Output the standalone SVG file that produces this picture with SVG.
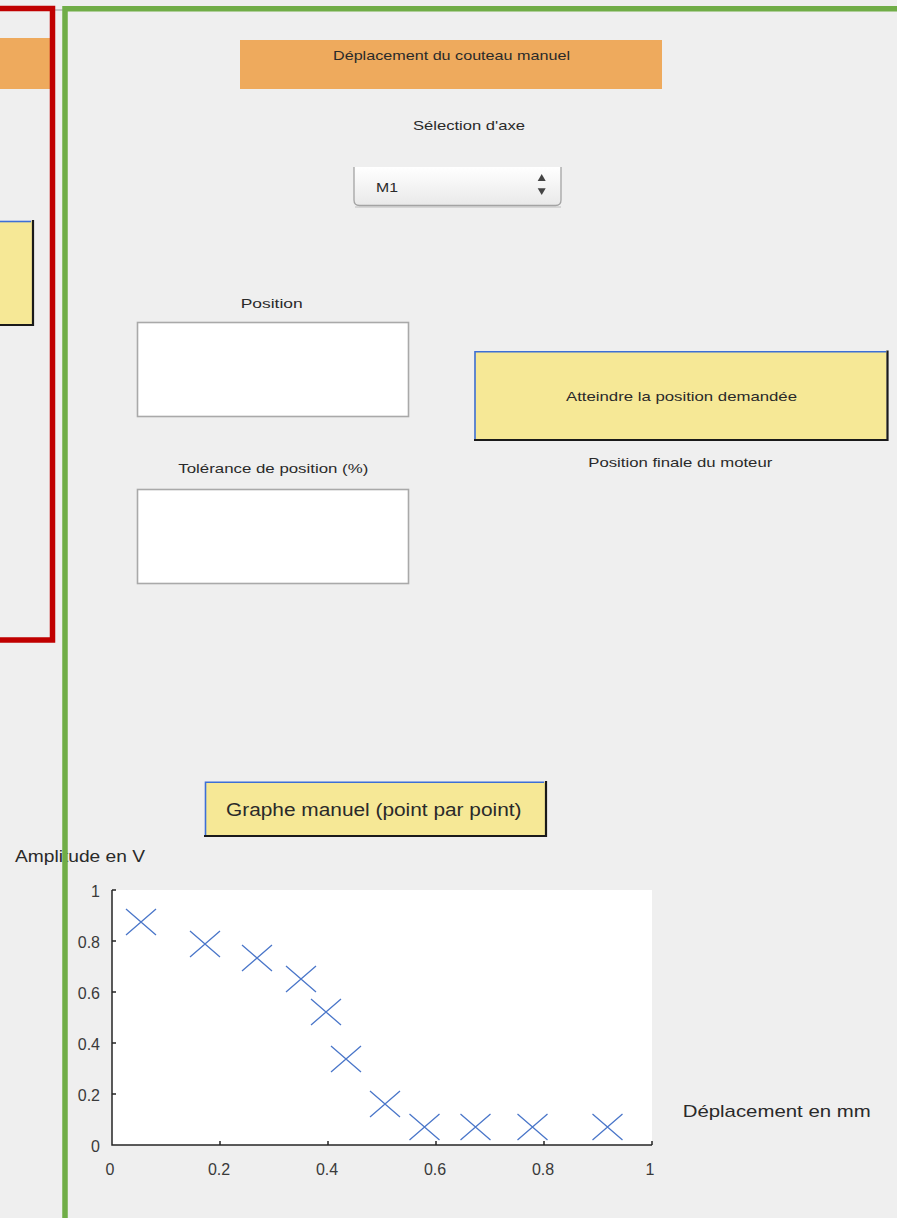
<svg xmlns="http://www.w3.org/2000/svg" width="897" height="1218" viewBox="0 0 897 1218">
<defs>
<style>
.t{font-family:"Liberation Sans",Arial,sans-serif;fill:#2a2a2a}
.s{font-size:13px}
.b{font-size:17px}
.tick{font-family:"Liberation Sans",Arial,sans-serif;font-size:16px;fill:#3a3a3a}
.btn{fill:#f6e896}
.hi{stroke:#3d6fd6;stroke-width:1.6;fill:none}
.sh{stroke:#1a1a1a;stroke-width:2.2;fill:none}
.box{fill:#ffffff;stroke:#a9a9a9;stroke-width:1.6}
.orange{fill:#eeaa5d}
.mk{stroke:#4a76c9;stroke-width:1.3;fill:none}
.ax{stroke:#262626;stroke-width:1.5;fill:none}
</style>
<linearGradient id="dd" x1="0" y1="0" x2="0" y2="1">
<stop offset="0" stop-color="#ffffff"/>
<stop offset="1" stop-color="#e9e9e9"/>
</linearGradient>
<path id="x" d="M-15,-13 L15,13 M-15,13 L15,-13"/>
</defs>
<rect x="0" y="0" width="897" height="1218" fill="#efefef"/>
<line x1="52" y1="10" x2="66" y2="10" stroke="#c4c4c4" stroke-width="2"/>

<g id="left-panel">
<rect class="orange" x="0" y="38" width="50" height="51"/>
<g id="left-button">
<rect class="btn" x="0" y="221" width="32" height="103"/>
<path class="hi" d="M0,221.5 H31"/>
<path class="sh" d="M0,325 H33 V220"/>
</g>
</g>

<g id="title-band">
<rect class="orange" x="240" y="40" width="422" height="49"/>
<text class="t s" x="333" y="59.5" textLength="237" lengthAdjust="spacingAndGlyphs">Déplacement du couteau manuel</text>
</g>

<g id="axis-label">
<text class="t s" x="413" y="130" textLength="112" lengthAdjust="spacingAndGlyphs">Sélection d'axe</text>
</g>

<g id="dropdown">
<path d="M355,207 H561" stroke="#d6d6d6" stroke-width="2"/>
<path d="M354,167 V200 Q354,205.5 359.5,205.5 H555.5 Q561,205.5 561,200 V167" fill="url(#dd)" stroke="#a3a3a3" stroke-width="1.3"/>
<text class="t" x="376" y="192.3" font-size="13.5" textLength="22" lengthAdjust="spacingAndGlyphs">M1</text>
<polygon points="541.7,174 537.7,181 545.7,181" fill="#444"/>
<polygon points="541.7,195 537.7,188.3 545.7,188.3" fill="#444"/>
</g>

<g id="position">
<text class="t s" x="240.7" y="308.3" textLength="62" lengthAdjust="spacingAndGlyphs">Position</text>
<rect class="box" x="137.5" y="322.5" width="271" height="94"/>
</g>

<g id="tolerance">
<text class="t s" x="178.3" y="473.3" textLength="190" lengthAdjust="spacingAndGlyphs">Tolérance de position (%)</text>
<rect class="box" x="137.5" y="489.5" width="271" height="94"/>
</g>

<g id="goto-button">
<rect class="btn" x="474.5" y="351.5" width="412" height="88"/>
<path class="hi" d="M475,439 V351.8 H886"/>
<path class="sh" d="M474,440 H887.5 V350.5"/>
<text class="t s" x="566" y="400.7" textLength="231" lengthAdjust="spacingAndGlyphs">Atteindre la position demandée</text>
</g>

<g id="final-position">
<text class="t s" x="588.3" y="466.7" textLength="184" lengthAdjust="spacingAndGlyphs">Position finale du moteur</text>
</g>

<g id="graph-button">
<rect class="btn" x="205" y="782" width="340" height="53"/>
<path class="hi" d="M205.5,835 V782.3 H544"/>
<path class="sh" d="M204,836 H546 V781"/>
<text class="t" x="226" y="815.7" font-size="17.5" textLength="295.5" lengthAdjust="spacingAndGlyphs">Graphe manuel (point par point)</text>
</g>

<g id="plot">
<rect x="112" y="890" width="540" height="255" fill="#ffffff"/>
<path class="ax" d="M112,890 V1145 H652"/>
<path class="ax" d="M112,890 H116 M112,941 H116 M112,992 H116 M112,1043 H116 M112,1094 H116 M220,1145 V1141 M328,1145 V1141 M436,1145 V1141 M544,1145 V1141 M652,1145 V1141"/>
<g class="tick" text-anchor="end">
<text x="100" y="897">1</text>
<text x="100" y="948">0.8</text>
<text x="100" y="999">0.6</text>
<text x="100" y="1050">0.4</text>
<text x="100" y="1101">0.2</text>
<text x="100" y="1152">0</text>
</g>
<g class="tick" text-anchor="middle">
<text x="110" y="1175">0</text>
<text x="219" y="1175">0.2</text>
<text x="327" y="1175">0.4</text>
<text x="435" y="1175">0.6</text>
<text x="543" y="1175">0.8</text>
<text x="650" y="1175">1</text>
</g>
<g class="mk">
<use href="#x" x="141" y="922"/>
<use href="#x" x="205" y="944"/>
<use href="#x" x="257" y="958"/>
<use href="#x" x="301" y="979"/>
<use href="#x" x="326" y="1012"/>
<use href="#x" x="346" y="1059"/>
<use href="#x" x="385" y="1104"/>
<use href="#x" x="424.5" y="1127"/>
<use href="#x" x="475.5" y="1127"/>
<use href="#x" x="532.5" y="1127"/>
<use href="#x" x="607.5" y="1127"/>
</g>
<text class="t b" x="15" y="861.7" textLength="130" lengthAdjust="spacingAndGlyphs">Amplitude en V</text>
<text class="t b" x="682.7" y="1117.3" textLength="188" lengthAdjust="spacingAndGlyphs">Déplacement en mm</text>
</g>

<g id="frames" fill="none">
<path d="M-5,8.5 H52.5 V640 H-5" stroke="#c00000" stroke-width="5.5"/>
<path d="M65,1225 V8.8 H905" stroke="#70ad47" stroke-width="5.5"/>
</g>
</svg>
